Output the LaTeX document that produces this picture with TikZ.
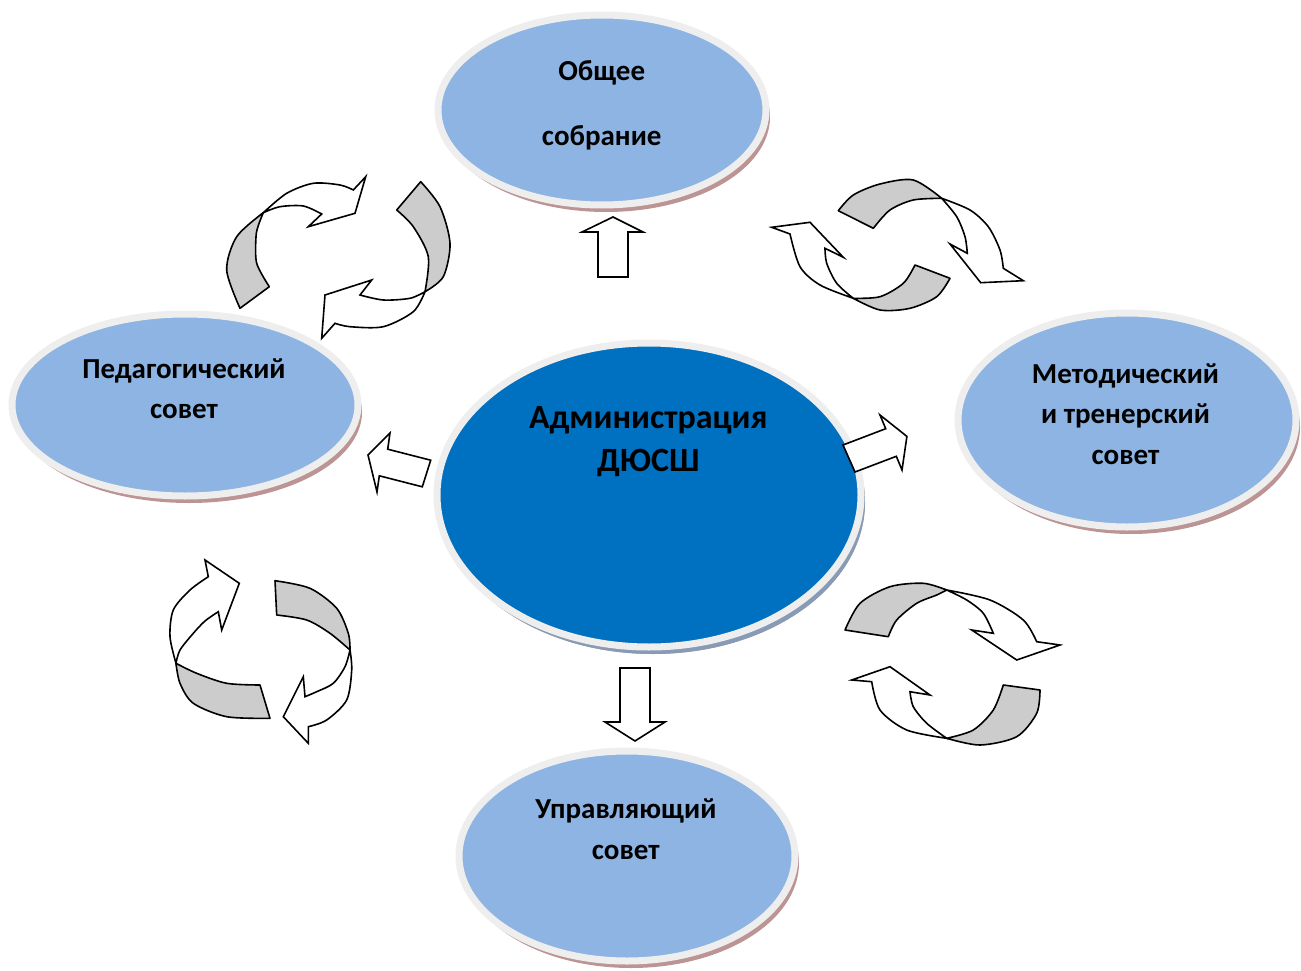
\documentclass[tikz,border=0pt]{standalone}
\usepackage{fontspec}
\setmainfont{Carlito}
\usetikzlibrary{shapes.geometric,shadows}

\definecolor{admblue}{RGB}{0,112,192}
\definecolor{lightblue}{RGB}{141,180,226}
\definecolor{rimgray}{RGB}{238,238,238}
\definecolor{shadered}{RGB}{188,148,148}
\definecolor{shadeblue}{RGB}{135,155,182}
\definecolor{ribbongray}{RGB}{204,204,204}

\tikzset{
  council/.style={ellipse, draw=rimgray, line width=7pt, fill=lightblue, inner sep=0pt,
    drop shadow={shadow xshift=4pt, shadow yshift=-7pt, fill=shadered, opacity=1}},
  lbl/.style={align=center, anchor=base, inner sep=0pt, font=\bfseries\fontsize{29}{40.5}\selectfont},
  blockarr/.style={draw, fill=white, line width=1.6pt, line join=miter},
  ribbonback/.style={draw, fill=ribbongray, line width=1.6pt, line join=round},
  ribbonfront/.style={draw, fill=white, line width=1.6pt, line join=miter}
}

\begin{document}
\begin{tikzpicture}[x=1pt, y=-1pt]
		\useasboundingbox (0,0) rectangle (1301,971);
		\node[council, minimum width=328pt, minimum height=190pt] (sobr) at (602,110) {};
		\node[council, minimum width=346pt, minimum height=182pt] (ped) at (185,405) {};
		\node[council, minimum width=338pt, minimum height=214pt] (met) at (1127,420) {};
		\node[council, minimum width=336pt, minimum height=210pt] (upr) at (627,856) {};
		\node[council, fill=admblue, minimum width=424pt, minimum height=304pt,
			drop shadow={shadow xshift=4pt, shadow yshift=-7pt, fill=shadeblue, opacity=1}] (adm) at (649,495) {};
		\node[lbl, font=\bfseries\fontsize{29}{65.5}\selectfont] (sobr-t) at (601.7,146) {Общее\\собрание};
		\node[lbl] (ped-t) at (184,418.8) {Педагогический\\совет};
		\node[lbl] (met-t) at (1125.5,464.3) {Методический\\и тренерский\\совет};
		\node[lbl] (upr-t) at (625.8,859) {Управляющий\\совет};
		\node[lbl, font=\bfseries\fontsize{34}{43.3}\selectfont] (adm-t) at (648.3,471.6) {Администрация\\ДЮСШ};
		\draw[blockarr] (598,277) -- (598,232) -- (582,232) -- (613,217) -- (643,232) -- (628,232) -- (628,277) -- cycle;
		\draw[blockarr] (620,668) -- (650,668) -- (650,722) -- (665,722) -- (635,741) -- (605,722) -- (620,722) -- cycle;
		\draw[blockarr] (368,455) -- (390,433) -- (387.7,449.2) -- (430.7,460.2) -- (422.3,486.8) -- (379.3,475.8) -- (377,492) -- cycle;
		\draw[blockarr] (843,445) -- (885.7,428.7) -- (880,415) -- (906.9,436.4) -- (902,470) -- (896.3,456.3) -- (855,472) -- cycle;
		\draw[ribbonback] plot[smooth] coordinates {(240,308.3) (226.7,270) (236.7,236.7) (263.3,212.7)} -- plot[smooth] coordinates {(263.3,212.7) (258.5,225) (256,236.7) (256.7,263.3) (269.3,286.7)} -- cycle;
		\draw[ribbonfront] plot[smooth] coordinates {(263.3,212.7) (286.7,193.3) (313.3,183.3) (340,185) (353.3,190)} -- (365.7,176.7) -- (355,213.3) -- (308.3,226.7) -- plot[smooth] coordinates {(321.7,214) (303.3,206) (280,206.7) (263.3,212.7)} -- cycle;
		\draw[ribbonback] plot[smooth] coordinates {(420.7,181.7) (440,206.7) (450,243.3) (443.3,276.7) (425,291.7)} -- plot[smooth] coordinates {(425,291.7) (428.3,256.7) (413.3,226.7) (396.7,210)} -- cycle;
		\draw[ribbonfront] plot[smooth] coordinates {(425,291.7) (410,298.3) (383.3,300) (360,295)} -- (371.7,280) -- (325,295) -- (321.7,338.3) -- plot[smooth] coordinates {(335,323.3) (350,326.7) (383.3,326.7) (413.3,311.7) (425,291.7)} -- cycle;
		\draw[ribbonback] plot[smooth] coordinates {(838.3,210.7) (853.3,195) (880,184) (913.3,180) (941.7,198.3)} -- plot[smooth] coordinates {(941.7,198.3) (913.3,200) (890,210) (873.3,228.3)} -- cycle;
		\draw[ribbonfront] plot[smooth] coordinates {(941.7,198.3) (970,210) (988.3,226.7) (1000,250) (1003.3,268.3)} -- (1023.3,280.7) -- (980.7,282.7) -- (950,244) -- plot[smooth] coordinates {(967.3,253.3) (965,236.7) (956.7,216.7) (941.7,198.3)} -- cycle;
		\draw[ribbonback] plot[smooth] coordinates {(950,278.3) (936.7,296.7) (910,308.3) (880,310) (853.3,298.3)} -- plot[smooth] coordinates {(853.3,298.3) (880,296.7) (903.3,283.3) (915,265)} -- cycle;
		\draw[ribbonfront] plot[smooth] coordinates {(853.3,298.3) (820,285) (800,266.7) (790,234)} -- (771.7,227.3) -- (810,222.3) -- (843.3,257.3) -- plot[smooth] coordinates {(825,248.3) (826.7,263.3) (836.7,283.3) (853.3,298.3)} -- cycle;
		\draw[ribbonback] plot[smooth] coordinates {(260,685) (226.7,683.3) (196.7,673.3) (176,663.3)} -- plot[smooth] coordinates {(176,663.3) (180,683.3) (193.3,703.3) (226.7,716.7) (270,718.3)} -- cycle;
		\draw[ribbonfront] plot[smooth] coordinates {(176,663.3) (170,636.7) (173.3,610) (190,590) (208.3,576.7)} -- (205,560) -- (239.3,583.3) -- (221.7,630) -- plot[smooth] coordinates {(218.3,611.7) (205,621) (193.3,633.3) (180,650) (176,663.3)} -- cycle;
		\draw[ribbonback] plot[smooth] coordinates {(275,580.7) (310,588.3) (336.7,608.3) (348.3,633.3) (350,650)} -- plot[smooth] coordinates {(350,650) (330,633.3) (306.7,620) (276.7,615)} -- cycle;
		\draw[ribbonfront] plot[smooth] coordinates {(350,650) (351.7,670) (346.7,700) (326.7,720) (308.3,726.7)} -- (308.3,743.3) -- (283.3,716.7) -- (303.3,676.7) -- plot[smooth] coordinates {(305,696.7) (316.7,691.7) (333.3,683.3) (345,666.7) (350,650)} -- cycle;
		\draw[ribbonback] plot[smooth] coordinates {(845,630) (860,603.3) (890,586.7) (923.3,583.3) (946.7,590)} -- plot[smooth] coordinates {(946.7,590) (936.7,595) (916.7,603.3) (896.7,620) (888.3,636.7)} -- cycle;
		\draw[ribbonfront] plot[smooth] coordinates {(946.7,590) (990,600) (1023.3,620) (1036.7,641.7)} -- (1060,645) -- (1016.7,660) -- (971.7,630) -- plot[smooth] coordinates {(993.3,633.3) (983.3,613.3) (966.7,600) (946.7,590)} -- cycle;
		\draw[ribbonback] plot[smooth] coordinates {(1040,690) (1036.7,713.3) (1016.7,736.7) (980,745) (946.7,738.3)} -- plot[smooth] coordinates {(946.7,738.3) (973.3,730) (993.3,710) (1003.3,685)} -- cycle;
		\draw[ribbonfront] plot[smooth] coordinates {(946.7,738.3) (906.7,730) (880,710) (871.7,681.7)} -- (851.7,680) -- (890,666.7) -- (930,695) -- plot[smooth] coordinates {(910,691.7) (913.3,706.7) (926.7,723.3) (946.7,738.3)} -- cycle;
\end{tikzpicture}
\end{document}
